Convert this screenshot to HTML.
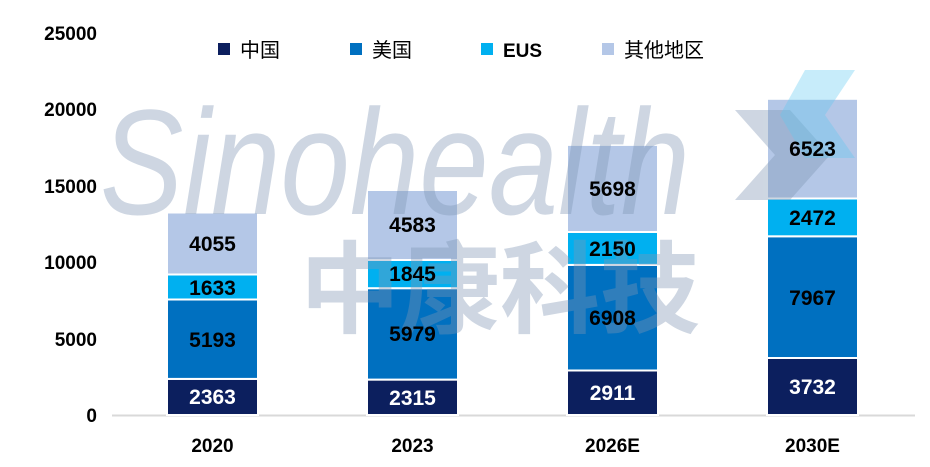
<!DOCTYPE html>
<html><head><meta charset="utf-8"><style>
html,body{margin:0;padding:0;background:#fff;}
svg{display:block;font-family:"Liberation Sans","Noto Sans CJK SC",sans-serif;}
</style></head><body>
<svg width="930" height="467" viewBox="0 0 930 467" xmlns="http://www.w3.org/2000/svg">
<rect width="930" height="467" fill="#fff"/>
<g font-size="19" font-weight="bold" text-anchor="end" fill="#000">
<text x="97" y="422">0</text>
<text x="97" y="346">5000</text>
<text x="97" y="269">10000</text>
<text x="97" y="193">15000</text>
<text x="97" y="116">20000</text>
<text x="97" y="40">25000</text>
</g>
<line x1="112" y1="415.5" x2="915" y2="415.5" stroke="#d9d9d9" stroke-width="2"/>
<g stroke="#fff" stroke-width="2">
<rect x="167" y="378.9" width="91" height="36.1" fill="#0c1f5e"/>
<rect x="167" y="299.5" width="91" height="79.4" fill="#0070c0"/>
<rect x="167" y="274.5" width="91" height="25" fill="#00b0f0"/>
<rect x="167" y="212.5" width="91" height="62" fill="#b4c7e7"/>
<rect x="367" y="379.6" width="91" height="35.4" fill="#0c1f5e"/>
<rect x="367" y="288.2" width="91" height="91.4" fill="#0070c0"/>
<rect x="367" y="260" width="91" height="28.2" fill="#00b0f0"/>
<rect x="367" y="190" width="91" height="70" fill="#b4c7e7"/>
<rect x="567" y="370.5" width="91" height="44.5" fill="#0c1f5e"/>
<rect x="567" y="264.9" width="91" height="105.6" fill="#0070c0"/>
<rect x="567" y="232" width="91" height="32.9" fill="#00b0f0"/>
<rect x="567" y="144.9" width="91" height="87.1" fill="#b4c7e7"/>
<rect x="767" y="358" width="91" height="57" fill="#0c1f5e"/>
<rect x="767" y="236.3" width="91" height="121.7" fill="#0070c0"/>
<rect x="767" y="198.5" width="91" height="37.8" fill="#00b0f0"/>
<rect x="767" y="98.8" width="91" height="99.7" fill="#b4c7e7"/>
</g>
<g opacity="0.38" fill="#7f96b4">
<text x="100" y="214" font-size="150" font-style="italic" font-family="Liberation Sans,sans-serif" textLength="590" lengthAdjust="spacingAndGlyphs">Sinohealth</text>
<text x="300" y="325" font-size="100" font-weight="bold" font-family="Noto Sans CJK SC,sans-serif" textLength="400" lengthAdjust="spacingAndGlyphs">中康科技</text>
<polygon points="735,110 790,110 830,155 790,200 735,200 775,155" />
</g>
<polygon points="805,70 855,70 825,115 855,158 805,158 780,115" fill="#5fc8f0" opacity="0.35"/>
<g font-size="21" font-weight="bold" text-anchor="middle">
<g fill="#fff">
<text x="212.5" y="404">2363</text>
<text x="412.5" y="405">2315</text>
<text x="612.5" y="400">2911</text>
<text x="812.5" y="394">3732</text>
</g>
<g fill="#000">
<text x="212.5" y="347">5193</text>
<text x="412.5" y="341">5979</text>
<text x="612.5" y="325">6908</text>
<text x="812.5" y="305">7967</text>
<text x="212.5" y="295">1633</text>
<text x="412.5" y="281">1845</text>
<text x="612.5" y="256">2150</text>
<text x="812.5" y="225">2472</text>
<text x="212.5" y="251">4055</text>
<text x="412.5" y="232">4583</text>
<text x="612.5" y="196">5698</text>
<text x="812.5" y="156">6523</text>
</g>
</g>
<g font-size="19" font-weight="bold" text-anchor="middle" fill="#000">
<text x="212.5" y="452">2020</text>
<text x="412.5" y="452">2023</text>
<text x="612.5" y="452">2026E</text>
<text x="812.5" y="452">2030E</text>
</g>
<g font-size="20">
<rect x="218" y="43" width="12" height="12" fill="#0c1f5e"/>
<text x="240" y="57" fill="#000">中国</text>
<rect x="350" y="43" width="12" height="12" fill="#0070c0"/>
<text x="372" y="57" fill="#000">美国</text>
<rect x="481" y="43" width="12" height="12" fill="#00b0f0"/>
<text x="503" y="57" fill="#000" font-weight="bold" font-size="19">EUS</text>
<rect x="602" y="43" width="12" height="12" fill="#b4c7e7"/>
<text x="624" y="57" fill="#000">其他地区</text>
</g>
</svg>
</body></html>
